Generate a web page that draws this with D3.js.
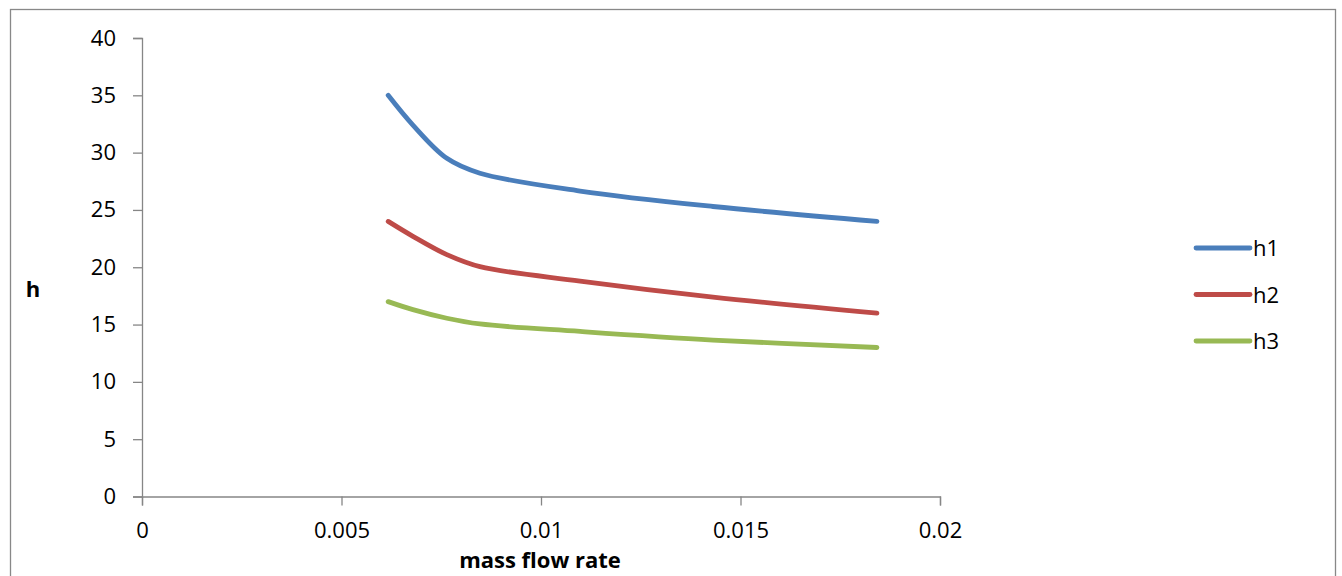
<!DOCTYPE html>
<html>
<head>
<meta charset="utf-8">
<script src="https://cdn.jsdelivr.net/npm/d3@7"></script>
<style>
  body { margin: 0; background: #fff; }
  text { font-family: "Open Sans", "Liberation Sans", sans-serif; }
</style>
</head>
<body>
<div id="chart"></div>
<script>
// data
var massFlow = [0.00617, 0.00679, 0.00764, 0.00847, 0.01098, 0.01431, 0.01842];
var h1 = [35.0, 32.4, 29.5, 28.2, 26.65, 25.3, 24.0];
var h2 = [24.0, 22.7, 21.1, 20.05, 18.8, 17.4, 16.0];
var h3 = [17.0, 16.3, 15.55, 15.05, 14.4, 13.65, 13.0];
var seriesNames = ["h1", "h2", "h3"];
var seriesColors = ["#4a7ebb", "#be4b48", "#98b954"];
var xTicks = [0, 0.005, 0.01, 0.015, 0.02];
var yTicks = [0, 5, 10, 15, 20, 25, 30, 35, 40];

var W = 1342, H = 576;
var svg = d3.select("#chart").append("svg")
    .attr("width", W).attr("height", H);

// outer frame
svg.append("rect")
    .attr("x", 10.5).attr("y", 9.5)
    .attr("width", 1325).attr("height", 600)
    .attr("fill", "none").attr("stroke", "#888").attr("stroke-width", 1.3);

var x = d3.scaleLinear().domain([0, 0.02]).range([142, 940]);
var y = d3.scaleLinear().domain([0, 40]).range([496.5, 38]);

// Y axis
var yAxis = svg.append("g")
    .attr("transform", "translate(142,0)")
    .call(d3.axisLeft(y).tickValues(yTicks).tickSize(9).tickPadding(17));
// X axis
var xAxis = svg.append("g")
    .attr("transform", "translate(0,496.5)")
    .call(d3.axisBottom(x).tickValues(xTicks).tickSize(9).tickPadding(17)
      .tickFormat(function(d) { return d === 0 ? "0" : String(+d.toFixed(3)); }));

[xAxis, yAxis].forEach(function(a) {
  a.select(".domain").attr("stroke", "#868686").attr("stroke-width", 1.3);
  a.selectAll(".tick line").attr("stroke", "#868686").attr("stroke-width", 1.3);
  a.selectAll(".tick text").attr("fill", "#000").style("font-size", "22px")
    .style("font-family", "'Open Sans', 'Liberation Sans', sans-serif");
});

// axis titles
svg.append("text")
    .attr("x", 33).attr("y", 297)
    .attr("text-anchor", "middle")
    .attr("font-weight", "bold").attr("font-size", 22)
    .text("h");
svg.append("text")
    .attr("x", 540).attr("y", 568)
    .attr("text-anchor", "middle")
    .attr("font-weight", "bold").attr("font-size", 22)
    .text("mass flow rate");

// lines (smoothed like the spreadsheet's smooth line)
var allSeries = [h1, h2, h3];
var line = d3.line()
    .x(function(d, i) { return x(massFlow[i]); })
    .y(function(d) { return y(d); })
    .curve(d3.curveCatmullRom.alpha(0.5));

allSeries.forEach(function(vals, k) {
  svg.append("path")
      .datum(vals)
      .attr("d", line)
      .attr("fill", "none")
      .attr("stroke", seriesColors[k])
      .attr("stroke-width", 4.8)
      .attr("stroke-linecap", "round")
      .attr("stroke-linejoin", "round");
});

// legend
var legend = svg.append("g");
seriesNames.forEach(function(name, k) {
  var ly = 248 + k * 46.5;
  legend.append("line")
      .attr("x1", 1196).attr("x2", 1250)
      .attr("y1", ly).attr("y2", ly)
      .attr("stroke", seriesColors[k])
      .attr("stroke-width", 4.8)
      .attr("stroke-linecap", "round");
  legend.append("text")
      .attr("x", 1253).attr("y", ly + 8)
      .attr("font-size", 22)
      .text(name);
});
</script>
</body>
</html>
